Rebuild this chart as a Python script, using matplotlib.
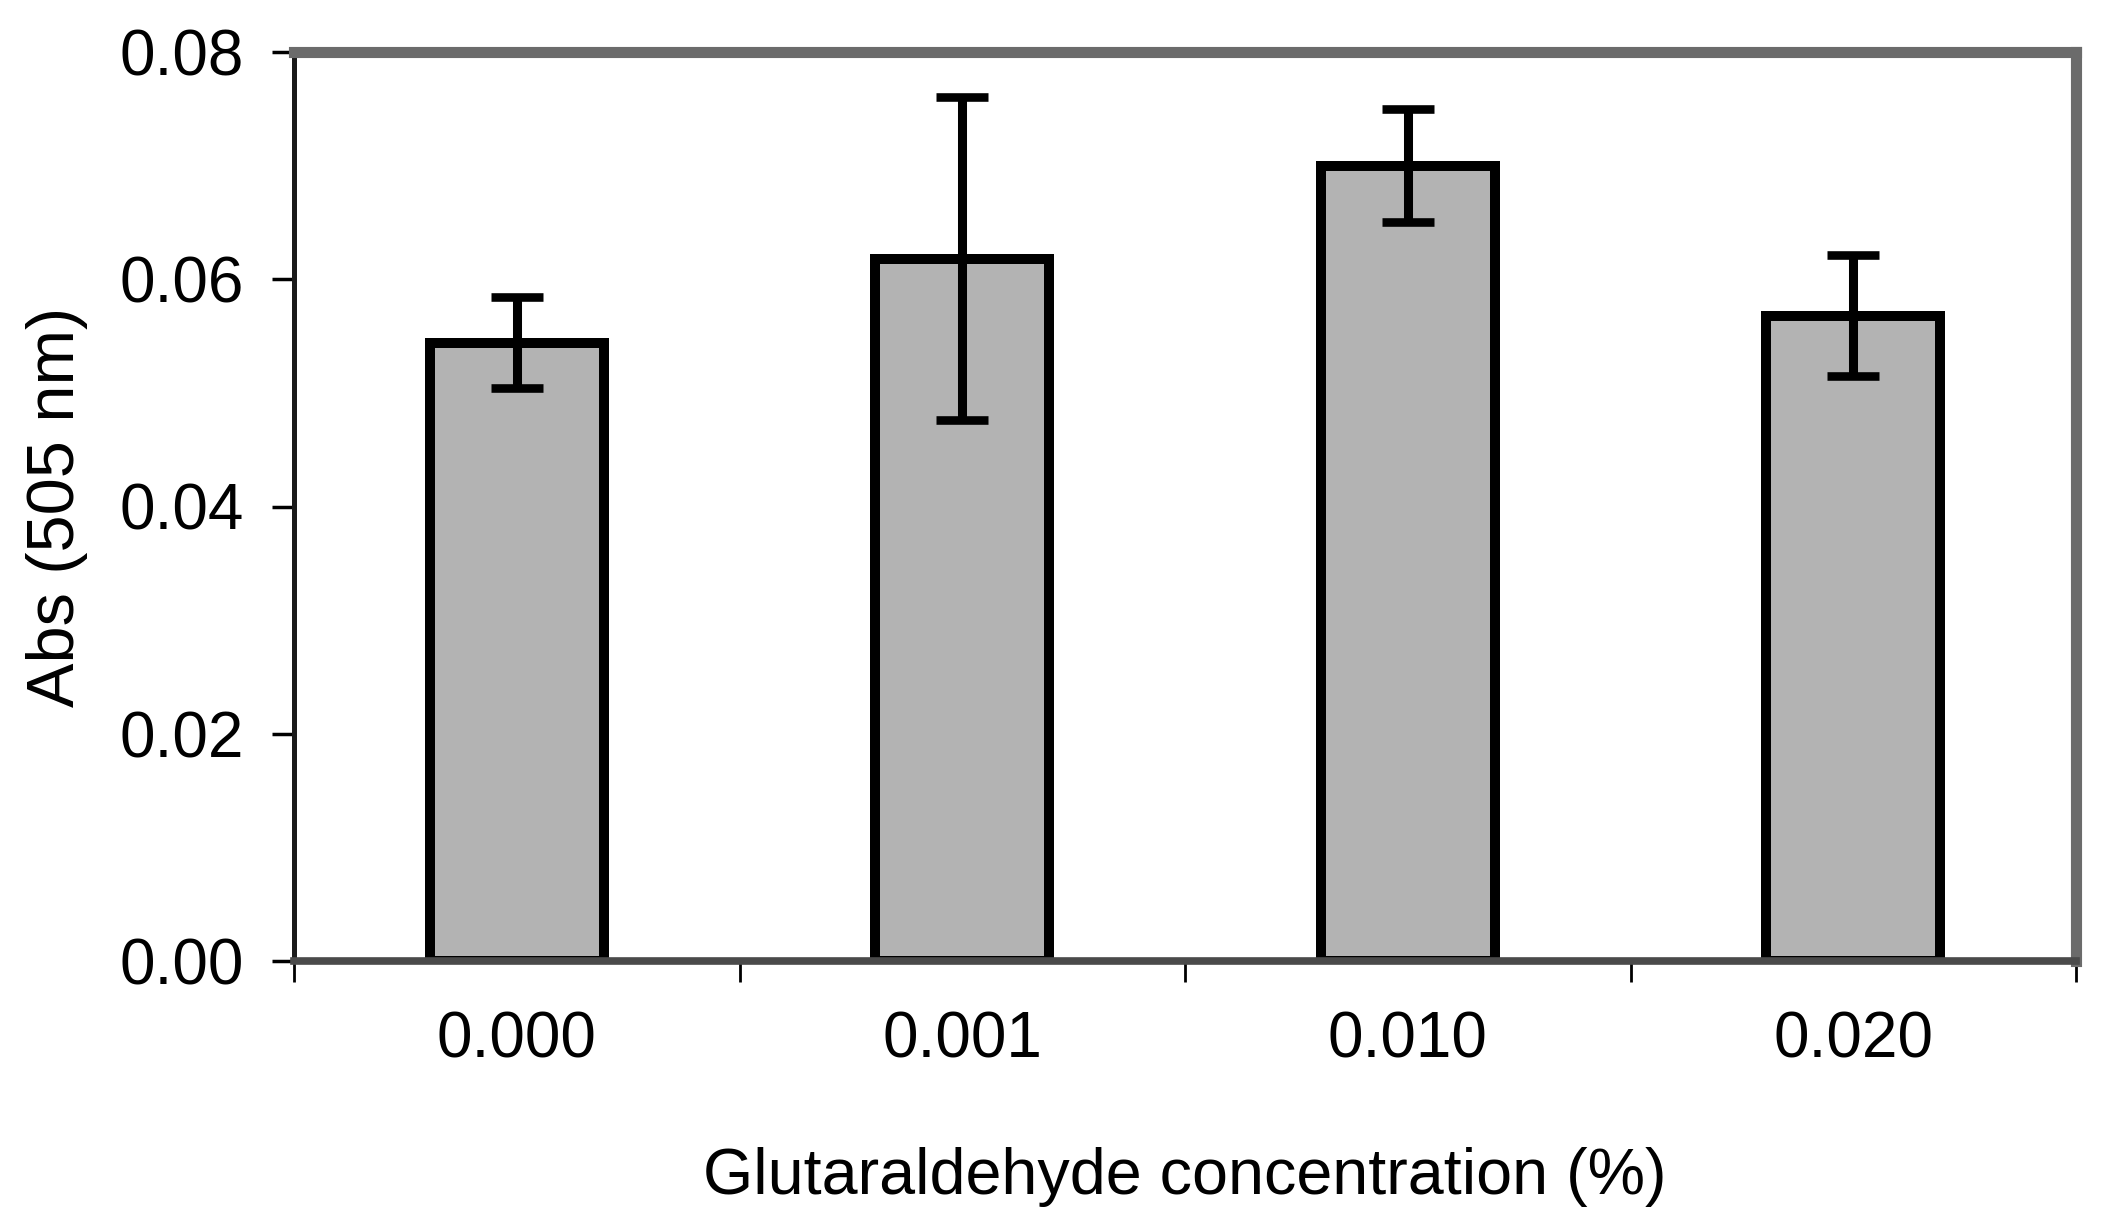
import matplotlib
matplotlib.use("Agg")
import matplotlib.pyplot as plt
import numpy as np

categories = ["0.000", "0.001", "0.010", "0.020"]
values = [0.0544, 0.0618, 0.0700, 0.0568]
errors = [0.0040, 0.0142, 0.0050, 0.0053]
y_ticks = [0.00, 0.02, 0.04, 0.06, 0.08]
y_tick_labels = ["0.00", "0.02", "0.04", "0.06", "0.08"]

plt.rcParams['font.family'] = ['Liberation Sans', 'DejaVu Sans']

W, H = 2106, 1232
L, R, T, B = 294, 2076, 52, 961
fig = plt.figure(figsize=(W/100, H/100), dpi=100)
ax = fig.add_axes([L/W, 1 - B/H, (R-L)/W, (B-T)/H])

x = np.arange(len(categories))
ax.bar(x, values, width=0.39, color='#b3b3b3', edgecolor='black', linewidth=7.2, zorder=2)
ax.errorbar(x, values, yerr=errors, fmt='none', ecolor='black', elinewidth=6.5,
            capsize=18.5, capthick=6.2, zorder=3)

ax.set_xlim(-0.5, 3.5)
ax.set_ylim(0, 0.08)

ax.set_yticks(y_ticks)
ax.set_yticklabels(y_tick_labels)
ax.set_xticks(np.arange(-0.5, 4.0, 1.0))
ax.set_xticklabels([])
ax.set_xticks(x, minor=True)
ax.set_xticklabels(categories, minor=True)

ax.tick_params(axis='y', which='major', direction='out', length=16, width=2.5,
               labelsize=46, pad=20, color='black')
ax.tick_params(axis='x', which='major', direction='out', length=15, width=2, color='black')
ax.tick_params(axis='x', which='minor', length=0, labelsize=46, pad=36)

for side in ['top', 'right']:
    ax.spines[side].set_color('#6b6b6b')
    ax.spines[side].set_linewidth(8)
ax.spines['bottom'].set_color('#4a4a4a')
ax.spines['bottom'].set_linewidth(5.5)
ax.spines['left'].set_color('#1a1a1a')
ax.spines['left'].set_linewidth(3.6)

ax.set_xlabel("Glutaraldehyde concentration (%)", fontsize=46.5)
ax.xaxis.set_label_coords(0.5, -0.238)
ax.xaxis.label.set_va('center')
ax.set_ylabel("Abs (505 nm)", fontsize=48)
ax.yaxis.set_label_coords(-0.133, 0.5)
ax.yaxis.label.set_va('center')

fig.savefig("out.png", dpi=100, facecolor='white')
